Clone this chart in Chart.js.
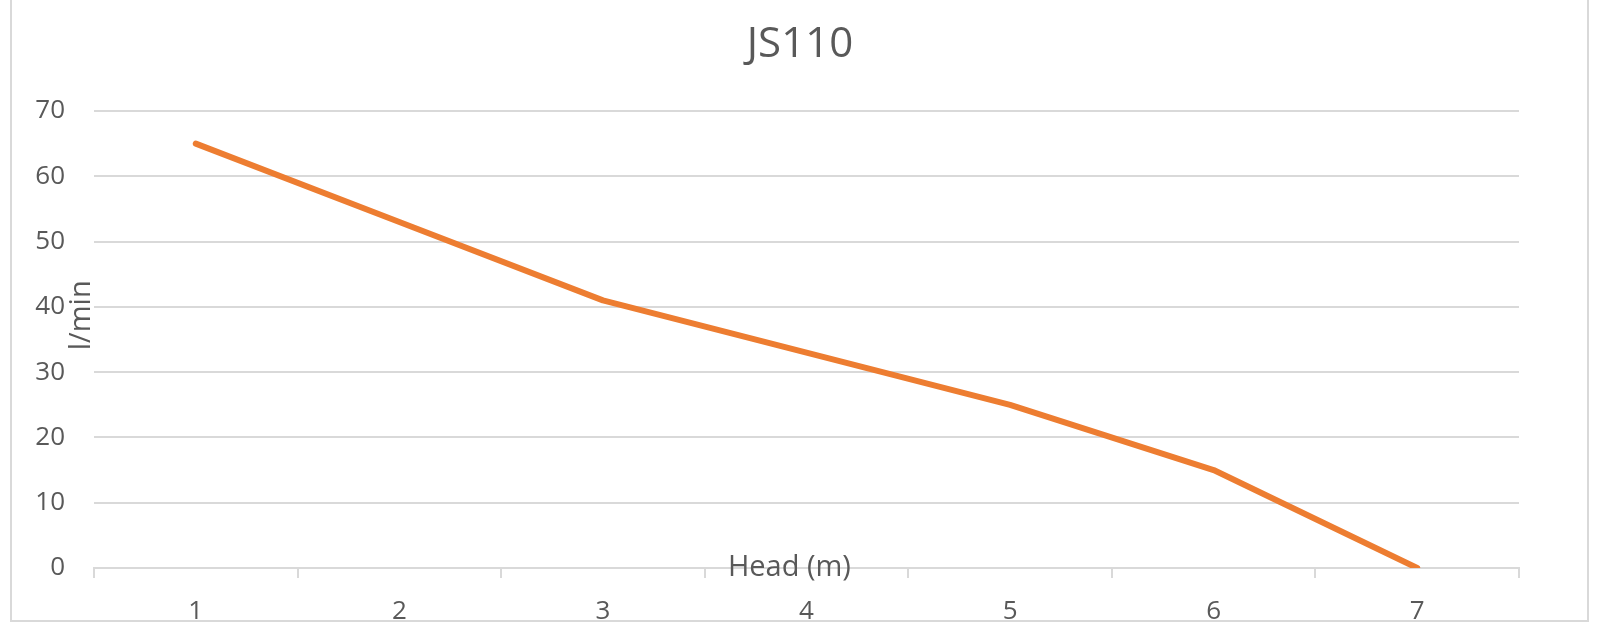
<!DOCTYPE html>
<html lang="en">
<head>
    <meta charset="UTF-8">
    <title>JS110</title>
    <script src="https://cdn.jsdelivr.net/npm/chart.js"></script>
    <style>
        html, body {
            margin: 0;
            padding: 0;
            background: #ffffff;
        }
        #pumpChart {
            display: block;
        }
    </style>
</head>
<body>
    <canvas id="pumpChart" width="1600" height="636"></canvas>

    <script>
        // Data
        const headLabels = ['1', '2', '3', '4', '5', '6', '7'];
        const flowValues = [65, 53, 41, 33, 25, 15, 0];
        const yTicks = [0, 10, 20, 30, 40, 50, 60, 70];

        const chartTitle = 'JS110';
        const xTitle = 'Head (m)';
        const yTitle = 'l/min';

        const textGrey = '#595959';
        const gridGrey = '#d9d9d9';
        const fontFamily = "'Open Sans', 'Noto Sans', sans-serif";

        // Frame, chart title and the two axis titles, placed like the original
        const extrasPlugin = {
            id: 'extras',
            beforeDraw(chart) {
                const c = chart.ctx;
                c.save();
                c.fillStyle = '#ffffff';
                c.fillRect(0, 0, chart.width, chart.height);
                c.restore();
            },
            afterDraw(chart) {
                const c = chart.ctx;
                const area = chart.chartArea;
                c.save();
                c.strokeStyle = gridGrey;
                c.lineWidth = 2;
                c.strokeRect(11, -5, 1577, 626);

                c.fillStyle = textGrey;
                c.textAlign = 'center';
                c.textBaseline = 'middle';

                // chart title, centred on the whole frame
                c.font = '42px ' + fontFamily;
                c.fillText(chartTitle, 800, 45);

                c.font = '29px ' + fontFamily;
                c.fillText(xTitle, area.left + (area.right - area.left) * 0.488, area.bottom);

                c.translate(82, area.top + (area.bottom - area.top) * 0.447);
                c.rotate(-Math.PI / 2);
                c.fillText(yTitle, 0, 0);
                c.restore();
            }
        };

        const ctx = document.getElementById('pumpChart').getContext('2d');
        const pumpChart = new Chart(ctx, {
            type: 'line',
            data: {
                labels: headLabels,
                datasets: [{
                    label: chartTitle,
                    data: flowValues,
                    borderColor: '#ed7d31',
                    borderWidth: 6,
                    borderCapStyle: 'round',
                    borderJoinStyle: 'round',
                    pointRadius: 0,
                    tension: 0,
                    fill: false
                }]
            },
            options: {
                responsive: false,
                animation: false,
                devicePixelRatio: 1,
                layout: {
                    padding: { left: 0, right: 81, top: 111, bottom: 0 }
                },
                plugins: {
                    legend: { display: false },
                    tooltip: { enabled: false },
                    title: { display: false }
                },
                scales: {
                    x: {
                        offset: true,
                        grid: {
                            offset: true,
                            drawOnChartArea: false,
                            drawTicks: true,
                            tickLength: 10,
                            color: gridGrey,
                            lineWidth: 2
                        },
                        border: { color: gridGrey, width: 2 },
                        ticks: {
                            color: textGrey,
                            padding: 18,
                            font: { family: fontFamily, size: 26 }
                        },
                        afterFit(scale) { scale.height = 68; }
                    },
                    y: {
                        min: 0,
                        max: 70,
                        afterBuildTicks(scale) {
                            scale.ticks = yTicks.map(v => ({ value: v }));
                        },
                        grid: {
                            drawTicks: false,
                            color: gridGrey,
                            lineWidth: 2
                        },
                        border: { display: false },
                        ticks: {
                            color: textGrey,
                            padding: 29,
                            font: { family: fontFamily, size: 26 }
                        },
                        afterFit(scale) { scale.width = 94; }
                    }
                }
            },
            plugins: [extrasPlugin]
        });
    </script>
</body>
</html>
